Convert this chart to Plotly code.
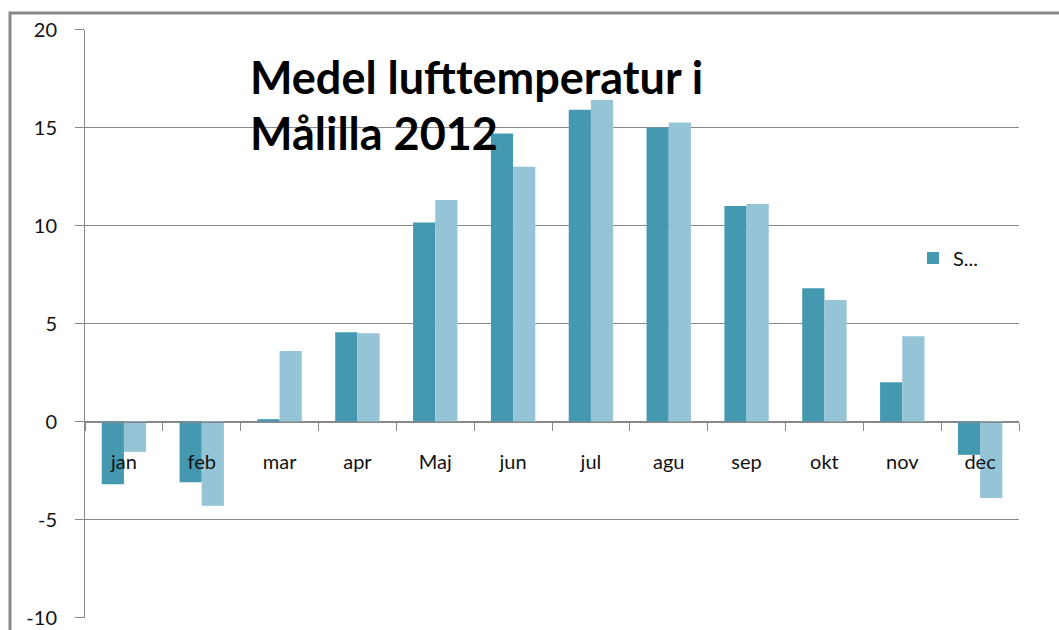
import plotly.graph_objects as go

months = ["jan", "feb", "mar", "apr", "Maj", "jun", "jul", "agu", "sep", "okt", "nov", "dec"]
series_a = [-3.2, -3.1, 0.12, 4.55, 10.15, 14.7, 15.9, 15.0, 11.0, 6.8, 2.0, -1.7]
series_b = [-1.55, -4.3, 3.6, 4.5, 11.3, 13.0, 16.4, 15.25, 11.1, 6.2, 4.35, -3.9]
series_a_name = "S..."
title_lines = ["Medel lufttemperatur i", "Målilla 2012"]
y_ticks = [-10, -5, 0, 5, 10, 15, 20]
y_tick_text = ["-10", "-5", "0", "5", "10", "15", "20"]

W, H = 1059, 630
FONT = "Lato"
GRID = "#888888"

def px(x):
    return x / W

def py(y):
    return 1 - y / H

fig = go.Figure()
fig.add_trace(go.Bar(x=months, y=series_a, name=series_a_name,
                     marker=dict(color="#4499B1", line=dict(width=0))))
fig.add_trace(go.Bar(x=months, y=series_b, name="S2", showlegend=False,
                     marker=dict(color="#94C4D6", line=dict(width=0))))

fig.update_layout(
    width=W, height=H,
    margin=dict(l=0, r=0, t=0, b=0),
    paper_bgcolor="white", plot_bgcolor="white",
    barmode="group", bargap=0.43, bargroupgap=0,
    font=dict(family=FONT, size=20, color="#111111"),
    showlegend=True,
    legend=dict(x=px(913), y=py(258), xanchor="left", yanchor="middle",
                bgcolor="rgba(0,0,0,0)", font=dict(family=FONT, size=20, color="#111111"),
                itemwidth=30, tracegroupgap=0),
    xaxis=dict(
        domain=[px(85), px(1019)],
        anchor="free", position=py(421.5),
        showline=True, linecolor=GRID, linewidth=1,
        ticks="outside", tickson="boundaries", ticklen=8, tickcolor=GRID, tickwidth=1,
        showgrid=False, ticklabelstandoff=22,
        tickfont=dict(family=FONT, size=20, color="#111111"),
        automargin=False,
    ),
    yaxis=dict(
        domain=[py(617.5), py(29.5)],
        range=[-10, 20], tickvals=y_ticks, ticktext=y_tick_text,
        showline=True, linecolor=GRID, linewidth=1,
        ticks="outside", ticklen=9, tickcolor=GRID, tickwidth=1,
        showgrid=True, gridcolor=GRID, gridwidth=1,
        zeroline=False,
        tickfont=dict(family=FONT, size=20, color="#111111"),
        ticklabelstandoff=14,
        automargin=False,
    ),
)

fig.add_annotation(text=title_lines[0], xref="paper", yref="paper",
                   x=px(248), y=py(77), xanchor="left", yanchor="middle",
                   showarrow=False, font=dict(family=FONT, size=45, color="black", weight="bold"))
fig.add_annotation(text=title_lines[1], xref="paper", yref="paper",
                   x=px(248), y=py(133), xanchor="left", yanchor="middle",
                   showarrow=False, font=dict(family=FONT, size=45, color="black", weight="bold"))

fig.add_shape(type="rect", xref="paper", yref="paper",
              x0=px(10), x1=1.05, y0=-0.05, y1=py(13),
              line=dict(color=GRID, width=3), layer="above")

fig.write_html("out.html", config={"displayModeBar": False},
               post_script="document.body.style.margin='0';document.body.style.padding='0';")
